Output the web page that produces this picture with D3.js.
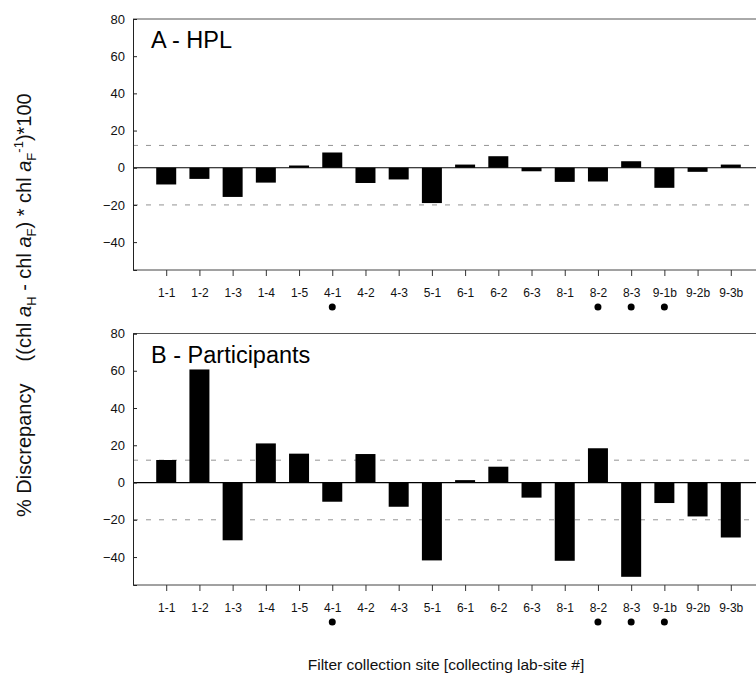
<!DOCTYPE html>
<html>
<head>
<meta charset="utf-8">
<script src="https://cdn.jsdelivr.net/npm/d3@7"></script>
<style>
	body { margin: 0; background: #fff; }
	text { font-family: "Liberation Sans", Arial, sans-serif; }
</style>
</head>
<body>
<div class="canvas"></div>
<script>
// data
const sites = ['1-1', '1-2', '1-3', '1-4', '1-5', '4-1', '4-2', '4-3', '5-1',
	'6-1', '6-2', '6-3', '8-1', '8-2', '8-3', '9-1b', '9-2b', '9-3b'];
const hplValues = [-9, -6, -15.7, -8, 1.2, 8.2, -8.2, -6.3, -19, 1.7, 6.2, -1.9,
	-7.6, -7.4, 3.5, -10.8, -2.2, 1.7];
const participantValues = [12.1, 60.7, -31, 21, 15.5, -10.3, 15.3, -13, -41.8, 1.3,
	8.5, -8.1, -42, 18.4, -50.6, -11, -18.2, -29.5];
const markedSites = ['4-1', '8-2', '8-3', '9-1b'];
const yTicks = [80, 60, 40, 20, 0, -20, -40];
const limitLines = [12, -20];

const dims = {width: 756, height: 677};

const svg = d3.select('.canvas')
	.append('svg')
	.attr('width', dims.width)
	.attr('height', dims.height);

const x = d3.scalePoint()
	.domain(sites)
	.range([133, 764])
	.padding(1);

const barWidth = 20;

const drawPanel = (values, top, bottom, title) => {

	const y = d3.scaleLinear()
		.domain([-55, 80])
		.range([bottom, top]);

	const g = svg.append('g');

	// frame: top and bottom lines
	g.append('line')
		.attr('x1', 133).attr('x2', 760)
		.attr('y1', top).attr('y2', top)
		.attr('stroke', '#555').attr('stroke-width', 1);
	g.append('line')
		.attr('x1', 133).attr('x2', 760)
		.attr('y1', bottom).attr('y2', bottom)
		.attr('stroke', '#444').attr('stroke-width', 1);

	// dashed limit lines
	g.selectAll('.limit')
		.data(limitLines)
		.enter()
		.append('line')
			.attr('class', 'limit')
			.attr('x1', 133).attr('x2', 760)
			.attr('y1', d => y(d)).attr('y2', d => y(d))
			.attr('stroke', '#777')
			.attr('stroke-width', 0.8)
			.attr('stroke-dasharray', '5,8');

	// bars
	g.selectAll('.bar')
		.data(values)
		.enter()
		.append('rect')
			.attr('class', 'bar')
			.attr('x', (d, i) => x(sites[i]) - barWidth / 2)
			.attr('y', d => y(Math.max(0, d)))
			.attr('width', barWidth)
			.attr('height', d => Math.abs(y(d) - y(0)))
			.attr('fill', '#000');

	// zero line
	g.append('line')
		.attr('x1', 133).attr('x2', 760)
		.attr('y1', y(0)).attr('y2', y(0))
		.attr('stroke', '#000').attr('stroke-width', 1.2);

	// y axis
	const yAxis = d3.axisLeft(y)
		.tickValues(yTicks)
		.tickSize(-4)
		.tickPadding(8)
		.tickFormat(d3.format('d'));

	const yg = g.append('g')
		.attr('transform', 'translate(133, 0)')
		.call(yAxis);
	yg.select('.domain').attr('stroke', '#222');
	yg.selectAll('.tick line').attr('stroke', '#222');
	yg.selectAll('text')
		.attr('font-size', 13)
		.attr('fill', '#111')
		.style('font-family', '"Liberation Sans", Arial, sans-serif');

	// x axis
	const xAxis = d3.axisBottom(x)
		.tickSize(6)
		.tickPadding(12);

	const xg = g.append('g')
		.attr('transform', `translate(0, ${bottom})`)
		.call(xAxis);
	xg.select('.domain').remove();
	xg.selectAll('.tick line').attr('stroke', '#333');
	xg.selectAll('text')
		.attr('font-size', 12)
		.attr('fill', '#111')
		.style('font-family', '"Liberation Sans", Arial, sans-serif');

	// marker dots
	g.selectAll('.dot')
		.data(markedSites)
		.enter()
		.append('circle')
			.attr('class', 'dot')
			.attr('cx', d => x(d))
			.attr('cy', bottom + 37)
			.attr('r', 3.5)
			.attr('fill', '#000');

	// panel title
	g.append('text')
		.attr('x', 151)
		.attr('y', top + 29)
		.attr('font-size', 23.5)
		.attr('fill', '#000')
		.text(title);
};

drawPanel(hplValues, 19, 270, 'A - HPL');
drawPanel(participantValues, 333.5, 585, 'B - Participants');

// y axis title
const yTitle = svg.append('text')
	.attr('transform', 'translate(31, 517) rotate(-90)')
	.attr('font-size', 20)
	.attr('fill', '#111');

yTitle.append('tspan').text('% Discrepancy\u00a0\u00a0\u00a0\u00a0((chl ');
yTitle.append('tspan').attr('font-style', 'italic').text('a');
yTitle.append('tspan').attr('font-size', 13).attr('dy', 5).text('H');
yTitle.append('tspan').attr('dy', -5).text(' - chl ');
yTitle.append('tspan').attr('font-style', 'italic').text('a');
yTitle.append('tspan').attr('font-size', 13).attr('dy', 5).text('F');
yTitle.append('tspan').attr('dy', -5).text(') * chl ');
yTitle.append('tspan').attr('font-style', 'italic').text('a');
yTitle.append('tspan').attr('font-size', 13).attr('dy', 5).text('F');
yTitle.append('tspan').attr('font-size', 13).attr('dy', -13).text('-1');
yTitle.append('tspan').attr('dy', 8).text(')*100');

// x axis title
svg.append('text')
	.attr('x', 446)
	.attr('y', 670)
	.attr('text-anchor', 'middle')
	.attr('font-size', 15.5)
	.attr('fill', '#111')
	.text('Filter collection site [collecting lab-site #]');
</script>
</body>
</html>
